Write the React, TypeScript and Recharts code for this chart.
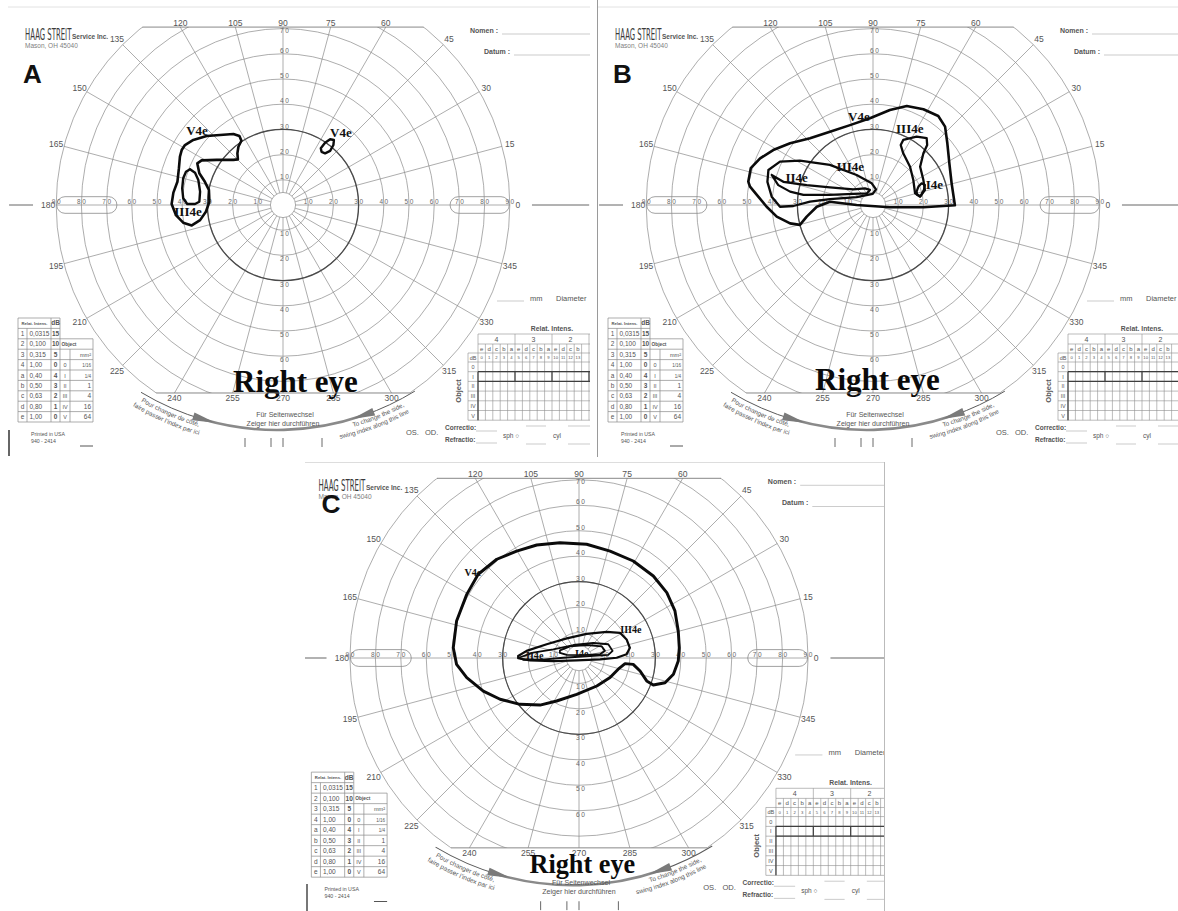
import React from 'react';
import {
  RadarChart,
  PolarGrid,
  PolarAngleAxis,
  PolarRadiusAxis,
  Radar,
  ScatterChart,
  Scatter,
  XAxis,
  YAxis,
  ReferenceLine,
  ReferenceArea,
} from 'recharts';

type Pt = [number, number];

// ---------------- axis categories / ticks ----------------
const ANGLES = [0, 15, 30, 45, 60, 75, 90, 105, 120, 135, 150, 165, 180, 195, 210, 225, 240, 255, 270, 285, 300, 315, 330, 345];
const RADII = [5, 10, 20, 30, 40, 50, 60, 70, 80, 90];
const H_TICKS = [10, 20, 30, 40, 50, 60, 70, 80, 90];
const V_TICKS_UP = [10, 20, 30, 40, 50, 60, 70];
const V_TICKS_DOWN = [10, 20, 30, 40, 50, 60];

// ---------------- isopters (degrees: x right, y up) ----------------
const A_V4E: Pt[] = [[-38.9, 23.8], [-35.6, 25.8], [-30.3, 27.4], [-25.0, 27.8], [-19.7, 28.2], [-17.3, 27.4], [-16.5, 25.5], [-17.7, 23.1], [-18.1, 20.5], [-17.9, 18.1], [-19.7, 17.9], [-26.3, 17.9], [-32.3, 17.7], [-34.0, 16.5], [-33.2, 12.6], [-31.0, 9.2], [-29.4, 6.0], [-29.2, 1.3], [-30.6, -2.7], [-32.9, -6.0], [-36.2, -8.1], [-39.6, -7.0], [-42.5, -4.0], [-44.2, 0.4], [-43.5, 4.9], [-41.9, 9.2], [-41.3, 14.6], [-40.9, 19.2], [-40.2, 21.8]];
const A_III4E: Pt[] = [[-36.9, 14.2], [-34.9, 12.8], [-33.6, 9.9], [-32.9, 5.3], [-33.2, 1.3], [-34.9, 0.4], [-38.0, 0.4], [-39.6, 2.7], [-40.0, 6.6], [-39.6, 10.6], [-38.5, 13.2]];
const A_V4E_SMALL: Pt[] = [[15.3, 21.1], [15.0, 22.5], [16.7, 24.7], [18.7, 26.1], [20.2, 25.8], [20.0, 23.8], [18.7, 21.5], [16.7, 20.5]];
const A_LABELS = [{ x: -34.1, y: 29.4, t: 'V4e' }, { x: 23.0, y: 28.6, t: 'V4e' }, { x: -37.7, y: -2.4, t: 'III4e' }];

const B_V4E: Pt[] = [[-49.5, 9.2], [-48.5, 14.6], [-44.8, 18.5], [-39.6, 21.8], [-32.9, 24.5], [-25.0, 26.5], [-17.1, 29.1], [-9.1, 31.7], [-1.2, 34.4], [6.7, 37.7], [13.4, 39.3], [20.0, 38.0], [25.9, 35.3], [28.6, 31.1], [29.5, 24.5], [30.3, 16.5], [31.2, 8.6], [32.5, -0.1], [20.0, -0.9], [6.7, -0.9], [-6.5, 0], [-17.1, 1.3], [-22.3, -0.7], [-26.3, -4.6], [-29.0, -7.9], [-32.9, -7.3], [-38.2, -4.6], [-42.2, -0.7], [-46.1, 4.0], [-48.8, 7.3]];
const B_III4E_L: Pt[] = [[-41.5, 13.9], [-36.9, 17.2], [-29.0, 17.6], [-17.1, 15.9], [-6.5, 11.9], [-0.5, 8.6], [1.2, 6.2], [-0.1, 4.4], [-6.5, 3.1], [-17.1, 2.3], [-25.0, 1.3], [-31.6, -0.4], [-36.9, -0.7], [-40.2, 3.3], [-41.9, 9.2]];
const B_II4E: Pt[] = [[-40.2, 11.9], [-35.6, 9.2], [-26.3, 7.9], [-17.1, 7.0], [-7.8, 6.2], [-3.2, 6.6], [-1.2, 6.0], [-2.5, 4.6], [-7.8, 4.4], [-17.1, 4.0], [-27.6, 4.0], [-32.9, 5.3], [-37.6, 7.9]];
const B_III4E_R: Pt[] = [[12.0, 25.8], [17.3, 27.1], [21.3, 26.5], [21.5, 23.8], [20.0, 20.5], [18.7, 15.2], [20.0, 9.9], [20.6, 5.9], [18.7, 3.3], [16.7, 4.6], [16.0, 9.9], [14.7, 15.2], [12.0, 20.5], [11.0, 23.8]];
const B_I4E: Pt[] = [[18.0, 7.3], [19.3, 8.6], [20.6, 7.9], [20.2, 6.0], [18.9, 3.6], [17.6, 4.0], [17.3, 5.3]];
const B_LABELS = [{ x: -5.6, y: 35.3, t: 'V4e' }, { x: 14.6, y: 30.2, t: 'III4e' }, { x: -9.0, y: 15.2, t: 'III4e' }, { x: -30.3, y: 10.9, t: 'II4e' }, { x: 24.4, y: 8.3, t: 'I4e' }];

const C_V4E: Pt[] = [[-49.4, 4.0], [-48.1, 14.5], [-44.1, 25.0], [-39.6, 32.9], [-32.3, 38.8], [-24.5, 42.0], [-16.6, 44.4], [-7.5, 45.3], [3.0, 44.7], [12.2, 42.0], [21.3, 38.1], [29.2, 32.2], [34.5, 25.7], [37.7, 18.5], [39.0, 10.6], [39.4, 4.0], [39.0, -1.2], [37.1, -6.4], [33.8, -9.7], [29.2, -10.6], [26.6, -9.0], [24.0, -5.1], [21.3, -2.5], [18.1, -2.2], [15.4, -4.4], [12.2, -7.7], [7.0, -11.0], [-0.9, -14.3], [-8.8, -16.9], [-15.3, -18.5], [-23.2, -18.2], [-31.0, -16.2], [-37.6, -13.0], [-44.1, -7.7], [-48.1, -2.5]];
const C_III4E: Pt[] = [[-23.9, 0.8], [-20.6, 2.8], [-12.7, 5.4], [-4.8, 7.7], [3.0, 9.5], [10.9, 10.3], [16.1, 9.9], [18.7, 7.3], [20.0, 4.0], [18.7, 1.5], [14.8, 0.1], [8.3, -0.5], [-0.9, -0.9], [-10.1, -1.2], [-19.3, -0.9], [-23.9, -0.1]];
const C_II4E: Pt[] = [[-23.7, 0.1], [-18.0, 2.1], [-10.1, 3.4], [-2.2, 5.1], [5.6, 5.9], [11.5, 5.4], [13.2, 2.8], [11.5, 1.2], [3.0, 0.7], [-6.2, 0.1], [-15.3, -0.7], [-21.9, -0.7]];
const C_I4E: Pt[] = [[-7.5, 3.0], [-3.5, 4.6], [3.0, 5.1], [8.9, 4.6], [10.2, 2.8], [8.3, 1.5], [1.7, 1.1], [-4.8, 1.2], [-7.5, 2.0]];
const C_LABELS = [{ x: -41.7, y: 33.4, t: 'V4e' }, { x: 20.4, y: 11.3, t: 'III4e' }, { x: -17.4, y: 0.8, t: 'II4e' }, { x: 1.1, y: 1.8, t: 'I4e' }];

// ---------------- form tables ----------------
const INT_ROWS = [['1', '0,0315', '15'], ['2', '0,100', '10'], ['3', '0,315', '5'], ['4', '1,00', '0'], ['a', '0,40', '4'], ['b', '0,50', '3'], ['c', '0,63', '2'], ['d', '0,80', '1'], ['e', '1,00', '0']];
const OBJ_ROWS = [['0', '1/16'], ['I', '1/4'], ['II', '1'], ['III', '4'], ['IV', '16'], ['V', '64']];
const GROUPS = ['4', '3', '2'];
const FILTERS = ['e', 'd', 'c', 'b', 'a', 'e', 'd', 'c', 'b', 'a', 'e', 'd', 'c', 'b', 'a', 'e'];
const DB_COLS = ['0', '1', '2', '3', '4', '5', '6', '7', '8', '9', '10', '11', '12', '13', '14', '15'];
const OBJECTS = ['0', 'I', 'II', 'III', 'IV', 'V'];
const BOTTOM_TICKS = [245, 271, 283, 322];

// ---------------- geometry ----------------
const W = 590;
const H = 455;
const CX = 283;
const CY = 205;
const K = 2.52;
const TOP_DEG = 70.6;
const BOT_DEG = 74.6;
const TOP_Y = CY - TOP_DEG * K;
const BOT_Y = CY + BOT_DEG * K;
const XMIN = -CX / K;
const XMAX = (W - CX) / K;
const YMIN = -(H - CY) / K;
const YMAX = CY / K;
const VISIBLE_W = 587;
const FONT = "'Liberation Sans', Arial, Helvetica, sans-serif";
const SERIF = "'Liberation Serif', 'Times New Roman', serif";
const GRAY = '#555';

const angleData = ANGLES.map((a) => ({ angle: a, v: 5 }));
const closed = (pts: Pt[]) => [...pts, pts[0]].map(([x, y]) => ({ x, y }));

const Empty = () => <g />;

function AngleTick(props: any) {
  const a = Number(props.payload?.value);
  const rad = (a * Math.PI) / 180;
  let x = CX + (90 * K + 8) * Math.cos(rad);
  let y = CY - (90 * K + 8) * Math.sin(rad);
  if (a > 50 && a < 130) {
    const d = TOP_DEG * K;
    x = CX + (d * Math.cos(rad)) / Math.sin(rad);
    y = TOP_Y - 4.5;
  } else if (a > 230 && a < 310) {
    const d = BOT_DEG * K;
    x = CX - (d * Math.cos(rad)) / Math.sin(rad);
    y = BOT_Y + 5.5;
  }
  return (
    <text x={x} y={y} textAnchor="middle" dominantBaseline="central" fontSize={8.5} fill={GRAY} fontFamily={FONT}>
      {a}
    </text>
  );
}

function ScaleLabel(p: any) {
  const d = p.payload || {};
  let x = p.cx;
  let y = p.cy;
  if (d.dir === 'h') {
    y = y - 1.2;
  } else if (d.dir === 'u') {
    x = x + 1.5;
    y = Math.max(y - 0.8, TOP_Y + 5.5);
  } else {
    x = x + 1.5;
    y = y + 6;
  }
  return (
    <text x={x + 0.8} y={y} textAnchor="middle" fontSize={6.5} letterSpacing={1.6} fill="#6a6a6a" fontFamily={FONT}>
      {d.t}
    </text>
  );
}

function Capsule(p: any) {
  return <rect x={p.x} y={p.y} width={p.width} height={p.height} rx={p.height / 2} fill="none" stroke="#8a8a8a" strokeWidth={0.8} />;
}

function GridChart() {
  return (
    <RadarChart width={W} height={H} cx={CX} cy={CY} innerRadius={5 * K} outerRadius={90 * K} startAngle={0} endAngle={360} data={angleData} margin={{ top: 0, right: 0, bottom: 0, left: 0 }}>
      <PolarGrid gridType="circle" polarRadius={RADII.map((r) => r * K)} polarAngles={ANGLES} stroke="#8a8a8a" strokeWidth={0.7} />
      <PolarGrid gridType="circle" polarRadius={[30 * K]} polarAngles={ANGLES} radialLines={false} stroke="#4a4a4a" strokeWidth={1.3} />
      <PolarAngleAxis dataKey="angle" tick={false} axisLine={false} tickLine={false} />
      <PolarRadiusAxis domain={[5, 90]} tick={false} axisLine={false} />
      <Radar dataKey="v" stroke="none" fill="none" isAnimationActive={false} />
    </RadarChart>
  );
}

function AngleChart() {
  return (
    <RadarChart width={W} height={H} cx={CX} cy={CY} innerRadius={5 * K} outerRadius={90 * K} startAngle={0} endAngle={360} data={angleData} margin={{ top: 0, right: 0, bottom: 0, left: 0 }}>
      <PolarAngleAxis dataKey="angle" tick={AngleTick} axisLine={false} tickLine={false} />
      <PolarRadiusAxis domain={[5, 90]} tick={false} axisLine={false} />
      <Radar dataKey="v" stroke="none" fill="none" isAnimationActive={false} />
    </RadarChart>
  );
}

function IsoChart({ contours, labels, labelSize }: any) {
  const scaleData = [
    ...H_TICKS.map((d) => ({ x: -d, y: 0, t: String(d), dir: 'h' })),
    ...H_TICKS.map((d) => ({ x: d, y: 0, t: String(d), dir: 'h' })),
    ...V_TICKS_UP.map((d) => ({ x: 0, y: d, t: String(d), dir: 'u' })),
    ...V_TICKS_DOWN.map((d) => ({ x: 0, y: -d, t: String(d), dir: 'd' })),
  ];
  const topHalf = Math.sqrt(90 * 90 - TOP_DEG * TOP_DEG);
  const botHalf = Math.sqrt(90 * 90 - BOT_DEG * BOT_DEG);
  const IsoLabel = (p: any) => (
    <text x={p.cx} y={p.cy} textAnchor="middle" dominantBaseline="central" fontSize={labelSize} fontWeight="bold" fontFamily={SERIF} fill="#111">
      {p.payload?.t}
    </text>
  );
  return (
    <ScatterChart width={W} height={H} margin={{ top: 0, right: 0, bottom: 0, left: 0 }}>
      <XAxis type="number" dataKey="x" domain={[XMIN, XMAX]} allowDataOverflow hide />
      <YAxis type="number" dataKey="y" domain={[YMIN, YMAX]} allowDataOverflow hide />
      <ReferenceLine segment={[{ x: -topHalf, y: TOP_DEG }, { x: topHalf, y: TOP_DEG }]} stroke="#7a7a7a" strokeWidth={0.9} />
      <ReferenceLine segment={[{ x: -botHalf, y: -BOT_DEG }, { x: botHalf, y: -BOT_DEG }]} stroke="#7a7a7a" strokeWidth={0.9} />
      <ReferenceLine segment={[{ x: -108.7, y: 0 }, { x: -99.2, y: 0 }]} stroke="#666" strokeWidth={1} />
      <ReferenceLine segment={[{ x: 98.8, y: 0 }, { x: 121.5, y: 0 }]} stroke="#666" strokeWidth={1} />
      <ReferenceArea x1={-89.8} x2={-65.9} y1={-3.3} y2={3.3} shape={Capsule} />
      <ReferenceArea x1={66.3} x2={89.8} y1={-3.3} y2={3.3} shape={Capsule} />
      <Scatter data={scaleData} shape={ScaleLabel} isAnimationActive={false} />
      {contours.map((c: any, i: number) => (
        <Scatter
          key={i}
          data={closed(c.pts)}
          line={{ stroke: '#0b0b0b', strokeWidth: c.w, strokeLinejoin: 'round', strokeLinecap: 'round' }}
          lineJointType="linear"
          shape={Empty}
          isAnimationActive={false}
        />
      ))}
      <Scatter data={labels} shape={IsoLabel} isAnimationActive={false} />
    </ScatterChart>
  );
}

function LeftTable() {
  const xs = [18, 27, 51, 60, 70, 93];
  const y0 = 318;
  const rh = 10.4;
  const ry = (r: number) => y0 + r * rh;
  const st = { stroke: '#8a8a8a', strokeWidth: 0.7 };
  const els: any[] = [];
  for (let r = 0; r <= 10; r++) els.push(<line key={'h' + r} x1={xs[0]} x2={xs[3]} y1={ry(r)} y2={ry(r)} {...st} />);
  els.push(<line key="v0" x1={xs[0]} x2={xs[0]} y1={ry(0)} y2={ry(10)} {...st} />);
  els.push(<line key="v1" x1={xs[1]} x2={xs[1]} y1={ry(1)} y2={ry(10)} {...st} />);
  els.push(<line key="v2" x1={xs[2]} x2={xs[2]} y1={ry(0)} y2={ry(10)} {...st} />);
  els.push(<line key="v3" x1={xs[3]} x2={xs[3]} y1={ry(0)} y2={ry(10)} {...st} />);
  for (let r = 2; r <= 10; r++) els.push(<line key={'oh' + r} x1={xs[3]} x2={xs[5]} y1={ry(r)} y2={ry(r)} {...st} />);
  els.push(<line key="ov4" x1={xs[4]} x2={xs[4]} y1={ry(3)} y2={ry(10)} {...st} />);
  els.push(<line key="ov5" x1={xs[5]} x2={xs[5]} y1={ry(2)} y2={ry(10)} {...st} />);
  const tp = { fontFamily: FONT, fill: GRAY };
  els.push(<text key="th" x={34.5} y={ry(0) + 6.6} fontSize={4.2} fontWeight="bold" textAnchor="middle" {...tp}>Relat. Intens.</text>);
  els.push(<text key="tdb" x={55.5} y={ry(0) + 7.4} fontSize={6.5} fontWeight="bold" textAnchor="middle" {...tp}>dB</text>);
  INT_ROWS.forEach((row, i) => {
    const y = ry(i + 1) + 7.5;
    els.push(<text key={'i' + i} x={22.5} y={y} fontSize={6.5} textAnchor="middle" {...tp}>{row[0]}</text>);
    els.push(<text key={'v' + i} x={29.5} y={y} fontSize={6.5} {...tp}>{row[1]}</text>);
    els.push(<text key={'d' + i} x={55.5} y={y} fontSize={6.5} fontWeight="bold" textAnchor="middle" {...tp}>{row[2]}</text>);
  });
  els.push(<text key="obj" x={61.5} y={ry(2) + 6.8} fontSize={4.8} fontWeight="bold" {...tp}>Object</text>);
  els.push(<text key="mm" x={91} y={ry(3) + 7.3} fontSize={5.5} textAnchor="end" {...tp}>mm²</text>);
  OBJ_ROWS.forEach((row, i) => {
    const y = ry(i + 4) + 7.5;
    els.push(<text key={'or' + i} x={65} y={y} fontSize={5.5} textAnchor="middle" {...tp}>{row[0]}</text>);
    els.push(<text key={'ov' + i} x={91} y={y} fontSize={i === 0 || i === 1 ? 4.5 : 6.5} textAnchor="end" {...tp}>{row[1]}</text>);
  });
  return <g>{els}</g>;
}

function RightTable() {
  const x0 = 468;
  const xd = 478;
  const cw = 7.4;
  const n = FILTERS.length;
  const xe = xd + n * cw;
  const yr = [334, 344, 353, 362];
  const oh = 9.7;
  const oy = (i: number) => 362 + i * oh;
  const st = { stroke: '#8f8f8f', strokeWidth: 0.6 };
  const bold = { stroke: '#3e3e3e', strokeWidth: 1.2 };
  const els: any[] = [];
  els.push(<line key="t0" x1={xd} x2={xe} y1={yr[0]} y2={yr[0]} {...st} />);
  els.push(<line key="t1" x1={xd} x2={xe} y1={yr[1]} y2={yr[1]} {...st} />);
  els.push(<line key="t2" x1={x0} x2={xe} y1={yr[2]} y2={yr[2]} {...st} />);
  for (let i = 0; i <= 6; i++) els.push(<line key={'o' + i} x1={x0} x2={xe} y1={oy(i)} y2={oy(i)} {...st} />);
  for (let j = 0; j <= n; j++) els.push(<line key={'c' + j} x1={xd + j * cw} x2={xd + j * cw} y1={yr[1]} y2={oy(6)} {...st} />);
  for (let g = 0; g <= 4; g++) els.push(<line key={'g' + g} x1={xd + g * 5 * cw} x2={xd + g * 5 * cw} y1={yr[0]} y2={yr[1]} {...st} />);
  els.push(<line key="x0" x1={x0} x2={x0} y1={yr[2]} y2={oy(6)} {...st} />);
  els.push(<line key="b1" x1={xd} x2={xe} y1={oy(1)} y2={oy(1)} {...bold} />);
  els.push(<line key="b2" x1={xd} x2={xe} y1={oy(2)} y2={oy(2)} {...bold} />);
  els.push(<line key="b3" x1={xd} x2={xd} y1={oy(1)} y2={oy(6)} {...bold} />);
  for (let g = 1; g <= 3; g++) els.push(<line key={'bg' + g} x1={xd + g * 5 * cw} x2={xd + g * 5 * cw} y1={oy(1)} y2={oy(2)} {...bold} />);
  const tp = { fontFamily: FONT, fill: GRAY };
  GROUPS.forEach((g, i) => {
    els.push(<text key={'gt' + i} x={xd + (i * 5 + 2.5) * cw} y={yr[0] + 7.5} fontSize={7} textAnchor="middle" {...tp}>{g}</text>);
  });
  FILTERS.forEach((f, j) => {
    const cx = xd + (j + 0.5) * cw;
    if (cx + 2 > VISIBLE_W) return;
    els.push(<text key={'f' + j} x={cx} y={yr[1] + 7} fontSize={6} textAnchor="middle" {...tp}>{f}</text>);
  });
  DB_COLS.forEach((d, j) => {
    const cx = xd + (j + 0.5) * cw;
    if (cx + 2 > VISIBLE_W) return;
    els.push(<text key={'d' + j} x={cx} y={yr[2] + 6.4} fontSize={4.2} textAnchor="middle" {...tp}>{d}</text>);
  });
  els.push(<text key="db" x={473} y={yr[2] + 6.6} fontSize={5.5} textAnchor="middle" {...tp}>dB</text>);
  OBJECTS.forEach((o, i) => {
    els.push(<text key={'ob' + i} x={473} y={oy(i) + 7} fontSize={5.5} textAnchor="middle" {...tp}>{o}</text>);
  });
  els.push(<text key="objv" x={0} y={0} transform="translate(461,391) rotate(-90)" fontSize={7.5} fontWeight="bold" textAnchor="middle" {...tp}>Object</text>);
  els.push(<text key="rel" x={552} y={331} fontSize={6.8} fontWeight="bold" textAnchor="middle" {...tp}>Relat. Intens.</text>);
  return <g>{els}</g>;
}

function Decor({ id, letter, letterX, letterY, eye, bottomShift }: any) {
  const AX = 277;
  const AY = 166;
  const AR = 264;
  const bs = bottomShift || 0;
  const pt = (deg: number, r: number) => [AX + r * Math.cos((deg * Math.PI) / 180), AY + r * Math.sin((deg * Math.PI) / 180)];
  const arc = (d1: number, d2: number, r: number) => {
    const [x1, y1] = pt(d1, r);
    const [x2, y2] = pt(d2, r);
    return `M${x1.toFixed(1)},${y1.toFixed(1)} A${r},${r} 0 0 0 ${x2.toFixed(1)},${y2.toFixed(1)}`;
  };
  const tri = (tip: number, base: number) => {
    const a = pt(tip, AR);
    const b = pt(base, AR - 4);
    const c = pt(base, AR + 4);
    return `M${a[0].toFixed(1)},${a[1].toFixed(1)} L${b[0].toFixed(1)},${b[1].toFixed(1)} L${c[0].toFixed(1)},${c[1].toFixed(1)} Z`;
  };
  const ln = { stroke: '#aaa', strokeWidth: 0.6 };
  const tp = { fontFamily: FONT, fill: GRAY };
  return (
    <svg width={W} height={H} style={{ position: 'absolute', left: 0, top: 0, overflow: 'hidden' }}>
      <defs>
        <path id={id + '-l1'} d={arc(120, 98, AR + 8)} />
        <path id={id + '-l2'} d={arc(121, 98, AR + 16)} />
        <path id={id + '-r1'} d={arc(75, 54, AR + 8)} />
        <path id={id + '-r2'} d={arc(77, 54, AR + 16)} />
      </defs>
      <line x1={8} x2={W} y1={7} y2={7} stroke="#e2e2e2" strokeWidth={1} />
      {/* header */}
      <text x={0} y={0} transform="translate(25,40) scale(0.42,1)" fontSize={16.5} fontFamily="'DejaVu Sans', sans-serif" fill="#3a3a3a">HAAG STREIT</text>
      <text x={72} y={38.5} fontSize={6.5} fontWeight="bold" {...tp}>Service Inc.</text>
      <text x={25} y={48} fontSize={6.5} fontFamily={FONT} fill="#808080">Mason, OH 45040</text>
      <text x={letterX} y={letterY} fontSize={26} fontWeight="bold" fontFamily={FONT} fill="#111">{letter}</text>
      <text x={470} y={33} fontSize={7} fontWeight="bold" {...tp}>Nomen :</text>
      <line x1={502} x2={W} y1={34} y2={34} {...ln} />
      <text x={484} y={54} fontSize={7} fontWeight="bold" {...tp}>Datum :</text>
      <line x1={514} x2={W} y1={55} y2={55} {...ln} />
      {/* diameter */}
      <line x1={497} x2={524} y1={301} y2={301} {...ln} />
      <text x={530} y={301} fontSize={7.5} {...tp}>mm</text>
      <text x={556} y={301} fontSize={7.5} {...tp}>Diameter</text>
      <LeftTable />
      <RightTable />
      {/* corrections */}
      <text x={445} y={430} fontSize={6.5} fontWeight="bold" {...tp}>Correctio:</text>
      <line x1={476} x2={497} y1={431} y2={431} {...ln} />
      <text x={445} y={442} fontSize={6.5} fontWeight="bold" {...tp}>Refractio:</text>
      <line x1={476} x2={497} y1={443} y2={443} {...ln} />
      <text x={503} y={438} fontSize={6.5} {...tp}>sph ○</text>
      <line x1={526} x2={546} y1={426} y2={426} {...ln} />
      <line x1={526} x2={546} y1={444} y2={444} {...ln} />
      <text x={553} y={438} fontSize={6.5} {...tp}>cyl</text>
      <line x1={568} x2={W} y1={426} y2={426} {...ln} />
      <line x1={568} x2={W} y1={444} y2={444} {...ln} />
      <text x={406} y={435} fontSize={7.5} {...tp}>OS.</text>
      <text x={425} y={435} fontSize={7.5} {...tp}>OD.</text>
      {/* side change arc */}
      <path d={arc(121, 106, AR)} fill="none" stroke="#5a5a5a" strokeWidth={1} />
      <path d={arc(106, 71, AR)} fill="none" stroke="#8a8a8a" strokeWidth={2.6} />
      <path d={arc(71, 58.5, AR)} fill="none" stroke="#5a5a5a" strokeWidth={1} />
      <path d={tri(103.5, 108.5)} fill="#7a7a7a" />
      <path d={tri(73.5, 68.5)} fill="#7a7a7a" />
      <text fontSize={6.4} {...tp}><textPath href={'#' + id + '-l1'}>Pour changer de côté,</textPath></text>
      <text fontSize={6.4} {...tp}><textPath href={'#' + id + '-l2'}>faire passer l’index par ici</textPath></text>
      <text fontSize={6.4} {...tp}><textPath href={'#' + id + '-r1'} startOffset="6">To change the side,</textPath></text>
      <text fontSize={6.4} {...tp}><textPath href={'#' + id + '-r2'}>swing index along this line</textPath></text>
      <text x={285} y={417 + bs} fontSize={7} textAnchor="middle" {...tp}>Für Seitenwechsel</text>
      <text x={283} y={425.5 + bs} fontSize={7} textAnchor="middle" {...tp}>Zeiger hier durchführen</text>
      {BOTTOM_TICKS.map((x) => (
        <line key={x} x1={x} x2={x} y1={438 + bs * 0.6} y2={447 + bs * 0.6} stroke="#6a6a6a" strokeWidth={1} />
      ))}
      <text x={31} y={436} fontSize={5.2} {...tp}>Printed in USA</text>
      <text x={31} y={443} fontSize={5.2} {...tp}>940 - 2414</text>
      <line x1={80} x2={93} y1={446} y2={446} stroke="#555" strokeWidth={1} />
      {/* annotation */}
      <text x={eye.x} y={eye.y} fontSize={eye.size} fontWeight="bold" fontFamily={SERIF} fill="#0a0a0a">Right eye</text>
    </svg>
  );
}

function Panel({ id, letter, letterX, letterY, eye, bottomShift, contours, labels, labelSize }: any) {
  return (
    <div style={{ position: 'relative', width: W, height: H }}>
      <div style={{ position: 'absolute', left: 0, top: 0, width: W, height: H, clipPath: `inset(${TOP_Y}px 0px ${H - BOT_Y}px 0px)` }}>
        <GridChart />
      </div>
      <div style={{ position: 'absolute', left: 0, top: 0, width: W, height: H }}>
        <AngleChart />
      </div>
      <Decor id={id} letter={letter} letterX={letterX} letterY={letterY} eye={eye} bottomShift={bottomShift} />
      <div style={{ position: 'absolute', left: 0, top: 0, width: W, height: H }}>
        <IsoChart contours={contours} labels={labels} labelSize={labelSize} />
      </div>
    </div>
  );
}

export default function App() {
  const cScale = 1.01;
  return (
    <div style={{ position: 'absolute', left: 0, top: 0, width: 1178, height: 911, background: '#fff', overflow: 'hidden' }}>
      <div style={{ position: 'absolute', left: 0, top: 0, width: 590, height: 456, overflow: 'hidden' }}>
        <Panel
          id="pa"
          letter="A"
          letterX={23}
          letterY={83}
          eye={{ x: 233, y: 392, size: 31 }}
          contours={[{ pts: A_V4E, w: 2.6 }, { pts: A_III4E, w: 2.4 }, { pts: A_V4E_SMALL, w: 2.4 }]}
          labels={A_LABELS}
          labelSize={13}
        />
      </div>
      <div style={{ position: 'absolute', left: 8, top: 430, width: 1.5, height: 26, background: '#666' }} />
      <div style={{ position: 'absolute', left: 590, top: 0, width: 588, height: 456, overflow: 'hidden' }}>
        <Panel
          id="pb"
          letter="B"
          letterX={23}
          letterY={83}
          eye={{ x: 225, y: 390, size: 31 }}
          contours={[{ pts: B_V4E, w: 2.6 }, { pts: B_III4E_L, w: 2.3 }, { pts: B_II4E, w: 2.2 }, { pts: B_III4E_R, w: 2.3 }, { pts: B_I4E, w: 2.2 }]}
          labels={B_LABELS}
          labelSize={13}
        />
      </div>
      <div style={{ position: 'absolute', left: 597, top: 0, width: 1, height: 457, background: '#9a9a9a' }} />
      <div style={{ position: 'absolute', left: 305, top: 462, width: 580, height: 449, overflow: 'hidden', borderTop: '1px solid #ddd' }}>
        <div style={{ position: 'absolute', left: 579 - CX - 305, top: 657 - CY - 462, width: W, height: H, transform: `scale(${cScale})`, transformOrigin: `${CX}px ${CY}px` }}>
          <Panel
            id="pc"
            letter="C"
            letterX={28}
            letterY={61}
            eye={{ x: 234, y: 418, size: 26 }}
            bottomShift={13}
            contours={[{ pts: C_V4E, w: 2.9 }, { pts: C_III4E, w: 2.2 }, { pts: C_II4E, w: 1.8 }, { pts: C_I4E, w: 1.8 }]}
            labels={C_LABELS}
            labelSize={10}
          />
        </div>
      </div>
      <div style={{ position: 'absolute', left: 884, top: 462, width: 1, height: 449, background: '#bbb' }} />
      <div style={{ position: 'absolute', left: 306, top: 884, width: 1.5, height: 27, background: '#777' }} />
    </div>
  );
}
